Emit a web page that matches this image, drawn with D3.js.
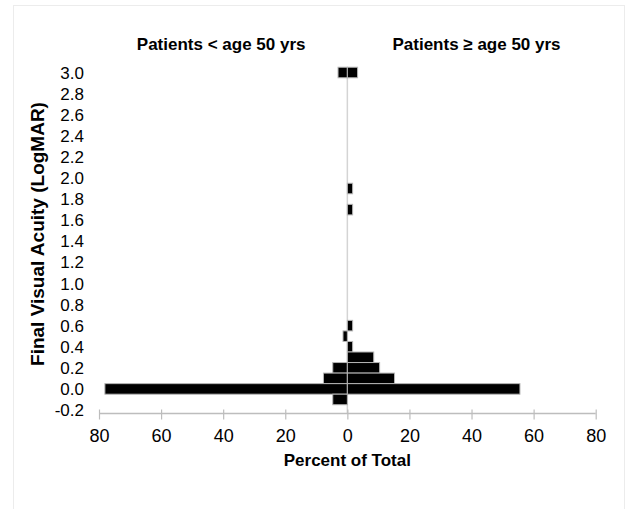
<!DOCTYPE html>
<html>
<head>
<meta charset="utf-8">
<script src="https://cdn.jsdelivr.net/npm/d3@7"></script>
<style>
  html, body { margin: 0; padding: 0; background: #fff; }
  svg { display: block; font-family: "Liberation Sans", Arial, sans-serif; }
</style>
</head>
<body>
<svg id="chart" width="628" height="509"></svg>
<script>
// LogMAR bins (bar centres) and percent of total per age group
const acuity   = [3.0, 1.9, 1.7, 0.6, 0.5, 0.4, 0.3, 0.2, 0.1, 0.0, -0.1];
const under50  = [3.0, 0,   0,   0,   1.4, 0,   0,   4.7, 7.7, 78.1, 4.7];
const over50   = [3.3, 1.7, 1.7, 1.7, 0,   1.7, 8.5, 10.4, 15.2, 55.6, 0];
const yTicks   = [-0.2, 0.0, 0.2, 0.4, 0.6, 0.8, 1.0, 1.2, 1.4, 1.6, 1.8, 2.0, 2.2, 2.4, 2.6, 2.8, 3.0];
const xTicks   = [-80, -60, -40, -20, 0, 20, 40, 60, 80];
const groupTitles = ["Patients < age 50 yrs", "Patients \u2265 age 50 yrs"];
const xTitle = "Percent of Total";
const yTitle = "Final Visual Acuity (LogMAR)";
const binWidth = 0.1;

const svg = d3.select("#chart");

// faint frame
svg.append("rect").attr("x", 13.5).attr("y", 5.5).attr("width", 611).attr("height", 520)
  .attr("fill", "none").attr("stroke", "#ececec").attr("stroke-width", 1);

const x = d3.scaleLinear().domain([-80, 80]).range([99, 595.7]);
const y = d3.scaleLinear().domain([-0.2, 3.0]).range([410, 72.5]);
const axisY = 413.5;

// centre line
svg.append("line")
  .attr("x1", x(0)).attr("x2", x(0))
  .attr("y1", y(3.0 + binWidth / 2)).attr("y2", axisY)
  .attr("stroke", "#d4d4d4").attr("stroke-width", 1.5);

const rows = acuity.map((a, i) => ({a, left: under50[i], right: over50[i]}));
const bh = Math.abs(y(0) - y(binWidth));

const bars = svg.append("g");
bars.selectAll("rect.l").data(rows.filter(d => d.left > 0)).join("rect")
  .attr("class", "l")
  .attr("x", d => x(-d.left)).attr("width", d => x(0) - x(-d.left))
  .attr("y", d => y(d.a + binWidth / 2)).attr("height", bh)
  .attr("fill", "#000").attr("stroke", "#b5b5b5").attr("stroke-width", 1);
bars.selectAll("rect.r").data(rows.filter(d => d.right > 0)).join("rect")
  .attr("class", "r")
  .attr("x", x(0)).attr("width", d => x(d.right) - x(0))
  .attr("y", d => y(d.a + binWidth / 2)).attr("height", bh)
  .attr("fill", "#000").attr("stroke", "#b5b5b5").attr("stroke-width", 1);

// x axis
const xAxis = d3.axisBottom(x).tickValues(xTicks).tickSizeInner(10).tickSizeOuter(0)
  .tickPadding(10).tickFormat(d => Math.abs(d));
const gx = svg.append("g").attr("transform", `translate(0,${axisY - 4})`).call(xAxis);
gx.select(".domain").remove();
gx.selectAll(".tick line").attr("stroke", "#bdbdbd").attr("stroke-width", 1.2);
gx.selectAll(".tick text").attr("font-size", 18).attr("fill", "#000")
  .attr("font-family", "Liberation Sans, Arial, sans-serif");
svg.append("line").attr("x1", x(-80)).attr("x2", x(80)).attr("y1", axisY).attr("y2", axisY)
  .attr("stroke", "#bdbdbd").attr("stroke-width", 1.5);

// y tick labels
svg.append("g").selectAll("text").data(yTicks).join("text")
  .attr("x", 84).attr("y", d => y(d)).attr("dy", "0.36em")
  .attr("text-anchor", "end").attr("font-size", 17).attr("fill", "#000")
  .text(d => d3.format(".1f")(d).replace("\u2212", "-"));

// group titles
svg.append("text").attr("x", x(-40) - 2).attr("y", 50).attr("text-anchor", "middle")
  .attr("font-size", 17).attr("font-weight", "bold").text(groupTitles[0]);
svg.append("text").attr("x", x(40) + 5).attr("y", 50).attr("text-anchor", "middle")
  .attr("font-size", 17).attr("font-weight", "bold").text(groupTitles[1]);

// axis titles
svg.append("text").attr("x", x(0)).attr("y", 466).attr("text-anchor", "middle")
  .attr("font-size", 17).attr("font-weight", "bold").text(xTitle);
svg.append("text").attr("transform", "translate(44,234) rotate(-90)")
  .attr("text-anchor", "middle").attr("font-size", 19).attr("font-weight", "bold").text(yTitle);
</script>
</body>
</html>
